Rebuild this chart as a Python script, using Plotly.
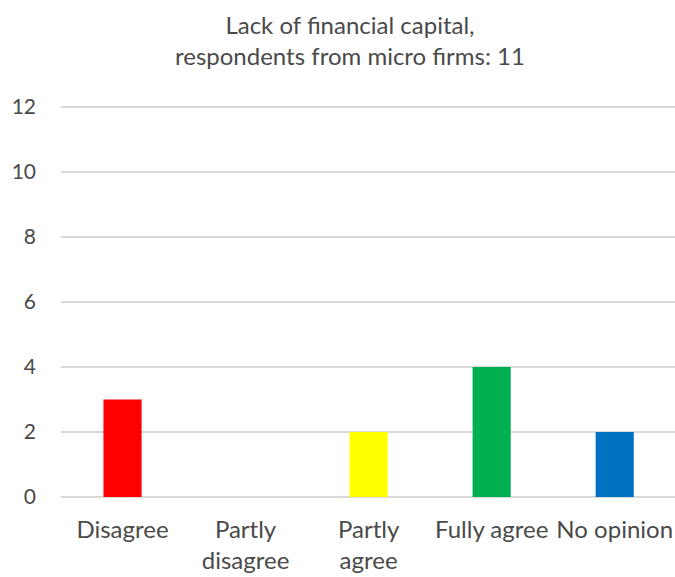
import plotly.graph_objects as go

categories = ["Disagree", "Partly<br>disagree", "Partly<br>agree", "Fully agree", "No opinion"]
counts = [3, 0, 2, 4, 2]
bar_colors = ["#FF0000", "#FFFF00", "#FFFF00", "#00B050", "#0070C0"]
y_ticks = [0, 2, 4, 6, 8, 10, 12]

text_color = "#4a4a4a"
font_family = "Lato, 'Open Sans', sans-serif"

fig = go.Figure(
    go.Bar(
        x=list(range(len(categories))),
        y=counts,
        marker=dict(color=bar_colors, line=dict(width=0)),
        hoverinfo="skip",
    )
)

fig.update_layout(
    width=675,
    height=577,
    paper_bgcolor="white",
    plot_bgcolor="white",
    margin=dict(l=61, r=0, t=105, b=78),
    bargap=0.69,
    showlegend=False,
    font=dict(family=font_family, color=text_color, size=21),
)

# chart title as a centred two-line annotation above the plot area
fig.add_annotation(
    text="Lack of financial capital,<br>respondents from micro firms: 11",
    xref="paper",
    yref="paper",
    x=(350 - 61) / 614,
    y=1 + (105 - 8) / 394,
    xanchor="center",
    yanchor="top",
    showarrow=False,
    font=dict(size=24, color=text_color, family=font_family),
)

fig.update_xaxes(
    tickmode="array",
    tickvals=list(range(len(categories))),
    ticktext=categories,
    range=[-0.5, 4.49],
    showgrid=False,
    showline=False,
    zeroline=False,
    ticks="",
    ticklabelstandoff=14,
    tickfont=dict(size=24, color=text_color),
)

fig.update_yaxes(
    range=[-0.06, 12.06],
    tickmode="array",
    tickvals=y_ticks,
    showgrid=True,
    gridcolor="#d9d9d9",
    gridwidth=1.5,
    zeroline=False,
    showline=False,
    ticks="",
    ticklabelstandoff=24,
    tickfont=dict(size=21, color=text_color),
)

fig.write_html("out.html")
